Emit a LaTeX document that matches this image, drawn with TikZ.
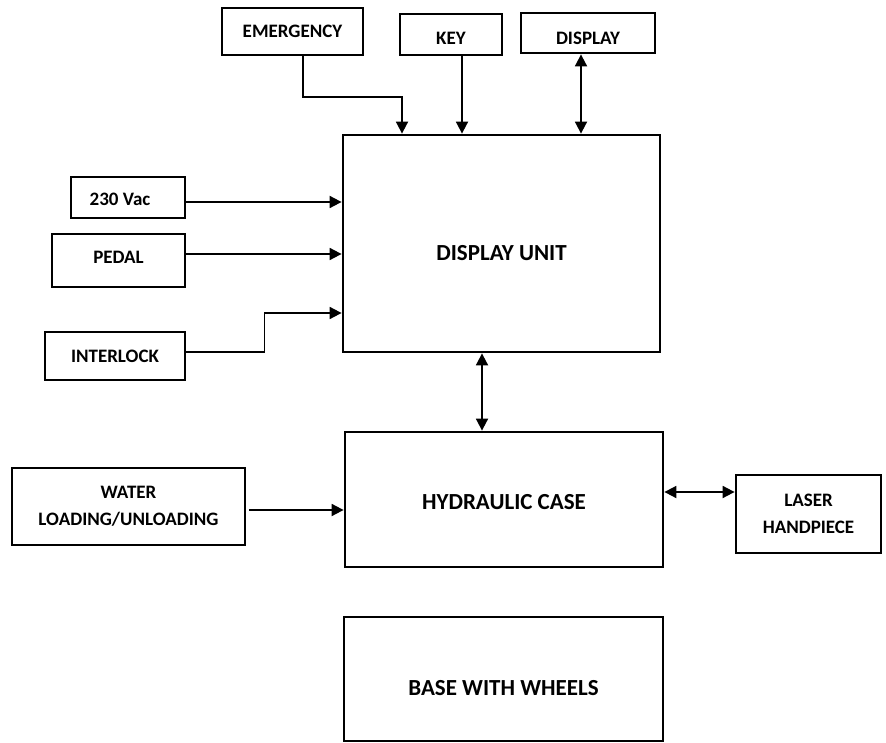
\documentclass[tikz,border=0pt]{standalone}
\usepackage{fontspec}
\setmainfont{Carlito}
\usetikzlibrary{arrows.meta}
\begin{document}
\begin{tikzpicture}[x=1pt,y=-1pt,
  blk/.style={draw, line width=2.8pt, rectangle, inner sep=0pt, align=center,
    font=\fontsize{19}{27}\selectfont\bfseries},
  smalltxt/.style={font=\fontsize{19}{27}\selectfont\bfseries},
  bigtxt/.style={font=\fontsize{23}{28}\selectfont\bfseries},
  link/.style={line width=1.8pt, -{Triangle[length=12pt,width=12pt]}},
  both/.style={line width=1.8pt, {Triangle[length=12pt,width=12pt]}-{Triangle[length=12pt,width=12pt]}}]

\useasboundingbox (0,0) rectangle (886,743);

% top row of inputs
\node[blk, minimum width=141pt, minimum height=47pt] (emg) at (292.5,31.5) {EMERGENCY};
\node[blk, minimum width=102pt, minimum height=41pt] (key) at (451,34.5) {};
\node[smalltxt] (keytxt) at ([yshift=-3.5pt]key.center) {KEY};
\node[blk, minimum width=134pt, minimum height=40pt] (disp) at (588,33) {};
\node[smalltxt] (disptxt) at ([yshift=-5pt]disp.center) {DISPLAY};

% main units
\node[blk, minimum width=317pt, minimum height=217pt] (du) at (501.5,243.5) {};
\node[bigtxt] (dutxt) at ([yshift=-10pt]du.center) {DISPLAY UNIT};
\node[blk, minimum width=318pt, minimum height=135pt] (hc) at (504,499.5) {};
\node[bigtxt] (hctxt) at ([yshift=-3pt]hc.center) {HYDRAULIC CASE};
\node[blk, minimum width=319pt, minimum height=124pt] (base) at (503.5,679) {};
\node[bigtxt] (basetxt) at ([yshift=-9pt]base.center) {BASE WITH WHEELS};

% left inputs
\node[blk, minimum width=114pt, minimum height=41pt] (vac) at (128,197.5) {};
\node[smalltxt] (vactxt) at ([xshift=-8pt,yshift=-1.5pt]vac.center) {230 Vac};
\node[blk, minimum width=133pt, minimum height=53pt] (pedal) at (118.5,260.5) {};
\node[smalltxt] (pedaltxt) at ([yshift=3.5pt]pedal.center) {PEDAL};
\node[blk, minimum width=140pt, minimum height=48pt] (intl) at (115,356) {INTERLOCK};
\node[blk, minimum width=233pt, minimum height=77pt] (water) at (128.5,506.5) {WATER\\LOADING/UNLOADING};

% right side
\node[blk, minimum width=145pt, minimum height=78pt] (laser) at (808.5,514) {LASER\\HANDPIECE};

% connectors into the display unit
\draw[link] ([xshift=10.5pt]emg.south) -- ++(0,41) -| ([xshift=-99.5pt]du.north);
\draw[link] ([xshift=11pt]key.south) -- ([xshift=11pt]key.south |- du.north);
\draw[both] ([xshift=-7pt]disp.south) -- ([xshift=-7pt]disp.south |- du.north);

\draw[link] ([yshift=-4.5pt]vac.east) -- ([yshift=-4.5pt]vac.east -| du.west);
\draw[link] ([yshift=6.5pt]pedal.east) -- ([yshift=6.5pt]pedal.east -| du.west);
\draw[link] ([yshift=4pt]intl.east) -- ++(78,0) |- ([yshift=-69.5pt]du.west);

% connectors around the hydraulic case
\draw[both] ([xshift=-19.5pt]du.south) -- ([xshift=-19.5pt]du.south |- hc.north);
\draw[link] ([xshift=3pt,yshift=-3.5pt]water.east) -- ([yshift=-3.5pt]water.east -| hc.west);
\draw[both] ([yshift=22pt]laser.west) -- ([yshift=22pt]laser.west -| hc.east);

\end{tikzpicture}
\end{document}
